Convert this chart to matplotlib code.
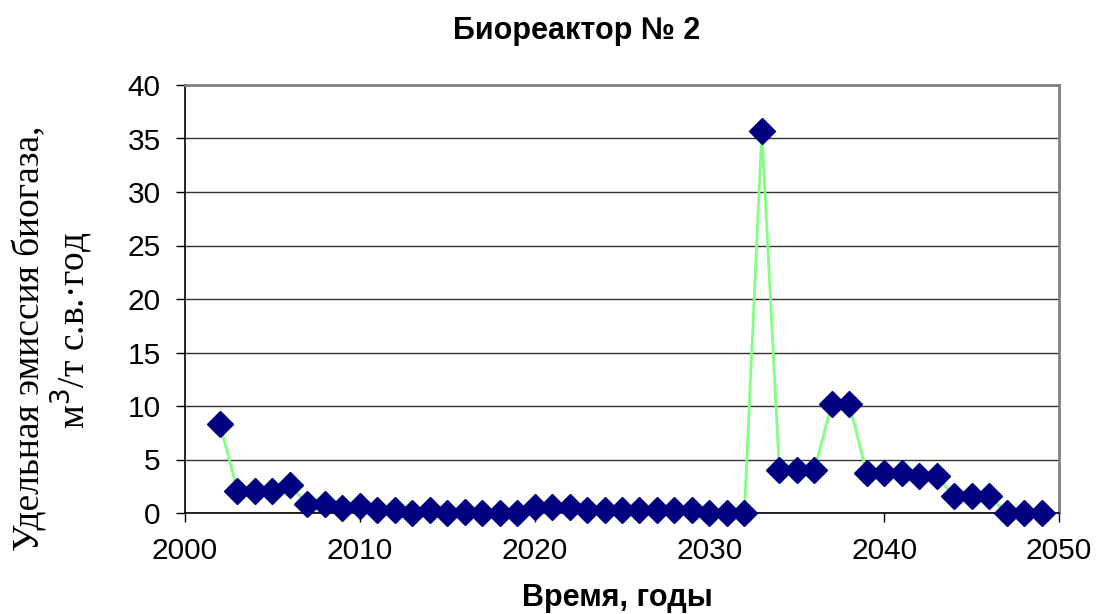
import matplotlib
matplotlib.use("Agg")
import matplotlib.pyplot as plt

years = list(range(2002, 2050))
emission = [8.3, 2.1, 2.1, 2.1, 2.6, 0.8, 0.8, 0.5, 0.7, 0.3,
            0.3, 0.0, 0.3, 0.0, 0.05, 0.0, 0.0, 0.0, 0.6, 0.6,
            0.6, 0.3, 0.3, 0.3, 0.3, 0.3, 0.3, 0.3, 0.0, 0.0,
            0.0, 35.7, 4.0, 4.0, 4.0, 10.2, 10.2, 3.7, 3.7, 3.7,
            3.45, 3.45, 1.6, 1.6, 1.6, 0.0, 0.0, 0.0]
xticks = [2000, 2010, 2020, 2030, 2040, 2050]
yticks = [0, 5, 10, 15, 20, 25, 30, 35, 40]

fig = plt.figure(figsize=(10.96, 6.14), dpi=100)
ax = fig.add_axes([185/1096, 1-513/614, (1059-185)/1096, (513-85)/614])

ax.plot(years, emission, color="#80FF80", lw=2, zorder=3, clip_on=False)
ax.plot(years, emission, ls="none", marker="D", ms=13, color="#000080",
        mec="#000080", zorder=4, clip_on=False)

ax.set_xlim(2000, 2050)
ax.set_ylim(0, 40)
ax.set_xticks(xticks)
ax.set_yticks(yticks)
ax.yaxis.grid(True, color="#333333", lw=1)
ax.set_axisbelow(True)
for s in ["top", "right"]:
    ax.spines[s].set_color("#808080")
    ax.spines[s].set_linewidth(2)
for s in ["left", "bottom"]:
    ax.spines[s].set_color("black")
    ax.spines[s].set_linewidth(1.2)
ax.tick_params(axis="both", direction="out", length=6.5, width=1, colors="black",
               labelsize=21.5)
ax.tick_params(axis="x", pad=10.5)
ax.tick_params(axis="y", pad=11)
for lab in ax.get_xticklabels() + ax.get_yticklabels():
    lab.set_family("Liberation Sans")

fig.text(577/1096, 1-31/614, "Биореактор № 2", ha="center", va="center",
         fontsize=22, fontweight="bold", family="Liberation Sans")
fig.text(617/1096, 1-598/614, "Время, годы", ha="center", va="center",
         fontsize=22, fontweight="bold", family="Liberation Sans")
fig.text(30/1096, 1-338/614, "Удельная эмиссия биогаза,", rotation=90,
         ha="center", va="center", fontsize=27, family="Liberation Serif")
fig.text(72/1096, 1-330/614, "м$^3$/т с.в.·год", rotation=90,
         ha="center", va="center", fontsize=27, family="Liberation Serif")

fig.savefig("out.png", dpi=100)
